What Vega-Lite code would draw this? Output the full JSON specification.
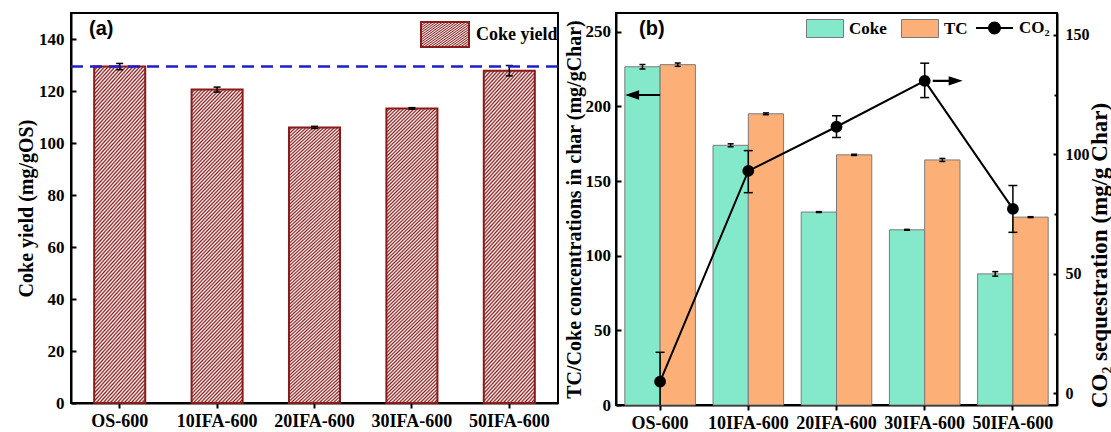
{
"$schema": "https://vega.github.io/schema/vega-lite/v6.json",
"padding": {"left": 15, "top": 9, "right": 0, "bottom": 0},
"spacing": 2,
"background": "white",
"config": {
  "view": {"stroke": "black", "strokeWidth": 2},
  "axis": {"labelFont": "Liberation Serif", "labelFontWeight": "bold", "labelColor": "black", "titleFont": "Liberation Serif", "titleFontWeight": "bold", "titleColor": "black", "domainColor": "black", "domainWidth": 2, "tickColor": "black", "tickWidth": 2, "grid": false},
  "legend": {"labelFont": "Liberation Serif", "labelFontWeight": "bold", "labelColor": "black", "padding": 0},
  "title": {"font": "Liberation Sans", "fontWeight": "bold", "fontSize": 20, "color": "black", "anchor": "start", "frame": "group", "offset": -26}
},
"hconcat": [
{
  "width": 487, "height": 390,
  "title": {"text": "(a)", "dx": 18},
  "data": {"values": [
    {"sample": "OS-600", "coke": 129.4, "lo": 128.2, "hi": 130.6},
    {"sample": "10IFA-600", "coke": 120.6, "lo": 119.6, "hi": 121.5},
    {"sample": "20IFA-600", "coke": 106.0, "lo": 105.6, "hi": 106.4},
    {"sample": "30IFA-600", "coke": 113.3, "lo": 113.0, "hi": 113.6},
    {"sample": "50IFA-600", "coke": 127.8, "lo": 125.8, "hi": 129.8}
  ]},
  "layer": [
    {"mark": {"type": "bar", "strokeWidth": 2, "opacity": 1,
      "fill": {"gradient": "linear", "x1": 0, "y1": 0, "x2": 0.193, "y2": 1.137, "stops": [
{"offset":0,"color":"#8b1a1a"},{"offset":0.005,"color":"#fff"},{"offset":0.01,"color":"#8b1a1a"},{"offset":0.015,"color":"#fff"},{"offset":0.02,"color":"#8b1a1a"},{"offset":0.025,"color":"#fff"},{"offset":0.03,"color":"#8b1a1a"},{"offset":0.035,"color":"#fff"},{"offset":0.04,"color":"#8b1a1a"},{"offset":0.045,"color":"#fff"},
{"offset":0.05,"color":"#8b1a1a"},{"offset":0.055,"color":"#fff"},{"offset":0.06,"color":"#8b1a1a"},{"offset":0.065,"color":"#fff"},{"offset":0.07,"color":"#8b1a1a"},{"offset":0.075,"color":"#fff"},{"offset":0.08,"color":"#8b1a1a"},{"offset":0.085,"color":"#fff"},{"offset":0.09,"color":"#8b1a1a"},{"offset":0.095,"color":"#fff"},
{"offset":0.1,"color":"#8b1a1a"},{"offset":0.105,"color":"#fff"},{"offset":0.11,"color":"#8b1a1a"},{"offset":0.115,"color":"#fff"},{"offset":0.12,"color":"#8b1a1a"},{"offset":0.125,"color":"#fff"},{"offset":0.13,"color":"#8b1a1a"},{"offset":0.135,"color":"#fff"},{"offset":0.14,"color":"#8b1a1a"},{"offset":0.145,"color":"#fff"},
{"offset":0.15,"color":"#8b1a1a"},{"offset":0.155,"color":"#fff"},{"offset":0.16,"color":"#8b1a1a"},{"offset":0.165,"color":"#fff"},{"offset":0.17,"color":"#8b1a1a"},{"offset":0.175,"color":"#fff"},{"offset":0.18,"color":"#8b1a1a"},{"offset":0.185,"color":"#fff"},{"offset":0.19,"color":"#8b1a1a"},{"offset":0.195,"color":"#fff"},
{"offset":0.2,"color":"#8b1a1a"},{"offset":0.205,"color":"#fff"},{"offset":0.21,"color":"#8b1a1a"},{"offset":0.215,"color":"#fff"},{"offset":0.22,"color":"#8b1a1a"},{"offset":0.225,"color":"#fff"},{"offset":0.23,"color":"#8b1a1a"},{"offset":0.235,"color":"#fff"},{"offset":0.24,"color":"#8b1a1a"},{"offset":0.245,"color":"#fff"},
{"offset":0.25,"color":"#8b1a1a"},{"offset":0.255,"color":"#fff"},{"offset":0.26,"color":"#8b1a1a"},{"offset":0.265,"color":"#fff"},{"offset":0.27,"color":"#8b1a1a"},{"offset":0.275,"color":"#fff"},{"offset":0.28,"color":"#8b1a1a"},{"offset":0.285,"color":"#fff"},{"offset":0.29,"color":"#8b1a1a"},{"offset":0.295,"color":"#fff"},
{"offset":0.3,"color":"#8b1a1a"},{"offset":0.305,"color":"#fff"},{"offset":0.31,"color":"#8b1a1a"},{"offset":0.315,"color":"#fff"},{"offset":0.32,"color":"#8b1a1a"},{"offset":0.325,"color":"#fff"},{"offset":0.33,"color":"#8b1a1a"},{"offset":0.335,"color":"#fff"},{"offset":0.34,"color":"#8b1a1a"},{"offset":0.345,"color":"#fff"},
{"offset":0.35,"color":"#8b1a1a"},{"offset":0.355,"color":"#fff"},{"offset":0.36,"color":"#8b1a1a"},{"offset":0.365,"color":"#fff"},{"offset":0.37,"color":"#8b1a1a"},{"offset":0.375,"color":"#fff"},{"offset":0.38,"color":"#8b1a1a"},{"offset":0.385,"color":"#fff"},{"offset":0.39,"color":"#8b1a1a"},{"offset":0.395,"color":"#fff"},
{"offset":0.4,"color":"#8b1a1a"},{"offset":0.405,"color":"#fff"},{"offset":0.41,"color":"#8b1a1a"},{"offset":0.415,"color":"#fff"},{"offset":0.42,"color":"#8b1a1a"},{"offset":0.425,"color":"#fff"},{"offset":0.43,"color":"#8b1a1a"},{"offset":0.435,"color":"#fff"},{"offset":0.44,"color":"#8b1a1a"},{"offset":0.445,"color":"#fff"},
{"offset":0.45,"color":"#8b1a1a"},{"offset":0.455,"color":"#fff"},{"offset":0.46,"color":"#8b1a1a"},{"offset":0.465,"color":"#fff"},{"offset":0.47,"color":"#8b1a1a"},{"offset":0.475,"color":"#fff"},{"offset":0.48,"color":"#8b1a1a"},{"offset":0.485,"color":"#fff"},{"offset":0.49,"color":"#8b1a1a"},{"offset":0.495,"color":"#fff"},
{"offset":0.5,"color":"#8b1a1a"},{"offset":0.505,"color":"#fff"},{"offset":0.51,"color":"#8b1a1a"},{"offset":0.515,"color":"#fff"},{"offset":0.52,"color":"#8b1a1a"},{"offset":0.525,"color":"#fff"},{"offset":0.53,"color":"#8b1a1a"},{"offset":0.535,"color":"#fff"},{"offset":0.54,"color":"#8b1a1a"},{"offset":0.545,"color":"#fff"},
{"offset":0.55,"color":"#8b1a1a"},{"offset":0.555,"color":"#fff"},{"offset":0.56,"color":"#8b1a1a"},{"offset":0.565,"color":"#fff"},{"offset":0.57,"color":"#8b1a1a"},{"offset":0.575,"color":"#fff"},{"offset":0.58,"color":"#8b1a1a"},{"offset":0.585,"color":"#fff"},{"offset":0.59,"color":"#8b1a1a"},{"offset":0.595,"color":"#fff"},
{"offset":0.6,"color":"#8b1a1a"},{"offset":0.605,"color":"#fff"},{"offset":0.61,"color":"#8b1a1a"},{"offset":0.615,"color":"#fff"},{"offset":0.62,"color":"#8b1a1a"},{"offset":0.625,"color":"#fff"},{"offset":0.63,"color":"#8b1a1a"},{"offset":0.635,"color":"#fff"},{"offset":0.64,"color":"#8b1a1a"},{"offset":0.645,"color":"#fff"},
{"offset":0.65,"color":"#8b1a1a"},{"offset":0.655,"color":"#fff"},{"offset":0.66,"color":"#8b1a1a"},{"offset":0.665,"color":"#fff"},{"offset":0.67,"color":"#8b1a1a"},{"offset":0.675,"color":"#fff"},{"offset":0.68,"color":"#8b1a1a"},{"offset":0.685,"color":"#fff"},{"offset":0.69,"color":"#8b1a1a"},{"offset":0.695,"color":"#fff"},
{"offset":0.7,"color":"#8b1a1a"},{"offset":0.705,"color":"#fff"},{"offset":0.71,"color":"#8b1a1a"},{"offset":0.715,"color":"#fff"},{"offset":0.72,"color":"#8b1a1a"},{"offset":0.725,"color":"#fff"},{"offset":0.73,"color":"#8b1a1a"},{"offset":0.735,"color":"#fff"},{"offset":0.74,"color":"#8b1a1a"},{"offset":0.745,"color":"#fff"},
{"offset":0.75,"color":"#8b1a1a"},{"offset":0.755,"color":"#fff"},{"offset":0.76,"color":"#8b1a1a"},{"offset":0.765,"color":"#fff"},{"offset":0.77,"color":"#8b1a1a"},{"offset":0.775,"color":"#fff"},{"offset":0.78,"color":"#8b1a1a"},{"offset":0.785,"color":"#fff"},{"offset":0.79,"color":"#8b1a1a"},{"offset":0.795,"color":"#fff"},
{"offset":0.8,"color":"#8b1a1a"},{"offset":0.805,"color":"#fff"},{"offset":0.81,"color":"#8b1a1a"},{"offset":0.815,"color":"#fff"},{"offset":0.82,"color":"#8b1a1a"},{"offset":0.825,"color":"#fff"},{"offset":0.83,"color":"#8b1a1a"},{"offset":0.835,"color":"#fff"},{"offset":0.84,"color":"#8b1a1a"},{"offset":0.845,"color":"#fff"},
{"offset":0.85,"color":"#8b1a1a"},{"offset":0.855,"color":"#fff"},{"offset":0.86,"color":"#8b1a1a"},{"offset":0.865,"color":"#fff"},{"offset":0.87,"color":"#8b1a1a"},{"offset":0.875,"color":"#fff"},{"offset":0.88,"color":"#8b1a1a"},{"offset":0.885,"color":"#fff"},{"offset":0.89,"color":"#8b1a1a"},{"offset":0.895,"color":"#fff"},
{"offset":0.9,"color":"#8b1a1a"},{"offset":0.905,"color":"#fff"},{"offset":0.91,"color":"#8b1a1a"},{"offset":0.915,"color":"#fff"},{"offset":0.92,"color":"#8b1a1a"},{"offset":0.925,"color":"#fff"},{"offset":0.93,"color":"#8b1a1a"},{"offset":0.935,"color":"#fff"},{"offset":0.94,"color":"#8b1a1a"},{"offset":0.945,"color":"#fff"},
{"offset":0.95,"color":"#8b1a1a"},{"offset":0.955,"color":"#fff"},{"offset":0.96,"color":"#8b1a1a"},{"offset":0.965,"color":"#fff"},{"offset":0.97,"color":"#8b1a1a"},{"offset":0.975,"color":"#fff"},{"offset":0.98,"color":"#8b1a1a"},{"offset":0.985,"color":"#fff"},{"offset":0.99,"color":"#8b1a1a"},{"offset":0.995,"color":"#fff"},
{"offset":1,"color":"#8b1a1a"}
      ]}},
      "encoding": {
        "x": {"field": "sample", "type": "nominal", "scale": {"domain": ["OS-600", "10IFA-600", "20IFA-600", "30IFA-600", "50IFA-600"], "paddingInner": 0.476, "paddingOuter": 0.238}, "axis": {"title": null, "labelAngle": 0, "labelFontSize": 18, "tickSize": 5, "labelPadding": 4}},
        "y": {"field": "coke", "type": "quantitative", "title": "Coke yield (mg/gOS)", "scale": {"domain": [0, 150], "nice": false}, "axis": {"values": [0, 10, 20, 30, 40, 50, 60, 70, 80, 90, 100, 110, 120, 130, 140], "labelExpr": "datum.value % 20 === 0 ? datum.label : ''", "tickSize": {"condition": {"test": "datum.value % 20 === 0", "value": -5}, "value": -3}, "labelFontSize": 17, "titleFontSize": 20, "labelPadding": 12, "titlePadding": 2}},
        "stroke": {"datum": "Coke yield", "type": "nominal", "scale": {"range": ["#8b1a1a"]}, "legend": {"orient": "none", "legendX": 349, "legendY": -3.5, "title": null, "symbolType": "M-1,-0.52H1V0.52H-1Z", "symbolSize": 2304, "symbolStrokeWidth": 2, "labelFontSize": 18, "labelOffset": 6,
          "encode": {"symbols": {
            "stroke": {"value": "#8b1a1a"}, "strokeWidth": {"value": 2}, "opacity": {"value": 1},
            "fill": {"value": {"gradient": "linear", "x1": 0, "y1": 0, "x2": 1.203, "y2": 0.576, "stops": [
{"offset":0,"color":"#8b1a1a"},{"offset":0.025,"color":"#fff"},{"offset":0.05,"color":"#8b1a1a"},{"offset":0.075,"color":"#fff"},{"offset":0.1,"color":"#8b1a1a"},{"offset":0.125,"color":"#fff"},{"offset":0.15,"color":"#8b1a1a"},{"offset":0.175,"color":"#fff"},{"offset":0.2,"color":"#8b1a1a"},{"offset":0.225,"color":"#fff"},
{"offset":0.25,"color":"#8b1a1a"},{"offset":0.275,"color":"#fff"},{"offset":0.3,"color":"#8b1a1a"},{"offset":0.325,"color":"#fff"},{"offset":0.35,"color":"#8b1a1a"},{"offset":0.375,"color":"#fff"},{"offset":0.4,"color":"#8b1a1a"},{"offset":0.425,"color":"#fff"},{"offset":0.45,"color":"#8b1a1a"},{"offset":0.475,"color":"#fff"},
{"offset":0.5,"color":"#8b1a1a"},{"offset":0.525,"color":"#fff"},{"offset":0.55,"color":"#8b1a1a"},{"offset":0.575,"color":"#fff"},{"offset":0.6,"color":"#8b1a1a"},{"offset":0.625,"color":"#fff"},{"offset":0.65,"color":"#8b1a1a"},{"offset":0.675,"color":"#fff"},{"offset":0.7,"color":"#8b1a1a"},{"offset":0.725,"color":"#fff"},
{"offset":0.75,"color":"#8b1a1a"},{"offset":0.775,"color":"#fff"},{"offset":0.8,"color":"#8b1a1a"},{"offset":0.825,"color":"#fff"},{"offset":0.85,"color":"#8b1a1a"},{"offset":0.875,"color":"#fff"},{"offset":0.9,"color":"#8b1a1a"},{"offset":0.925,"color":"#fff"},{"offset":0.95,"color":"#8b1a1a"},{"offset":0.975,"color":"#fff"},
{"offset":1,"color":"#8b1a1a"}
            ]}}
          }}
        }}
      }
    },
    {"mark": {"type": "rule", "color": "black", "strokeWidth": 1.5},
      "encoding": {
        "x": {"field": "sample", "type": "nominal"},
        "y": {"field": "lo", "type": "quantitative", "title": "Coke yield (mg/gOS)"},
        "y2": {"field": "hi"}
      }
    },
    {"mark": {"type": "tick", "color": "black", "size": 7, "thickness": 1.5, "opacity": 1},
      "encoding": {
        "x": {"field": "sample", "type": "nominal"},
        "y": {"field": "lo", "type": "quantitative", "title": "Coke yield (mg/gOS)"}
      }
    },
    {"mark": {"type": "tick", "color": "black", "size": 7, "thickness": 1.5, "opacity": 1},
      "encoding": {
        "x": {"field": "sample", "type": "nominal"},
        "y": {"field": "hi", "type": "quantitative", "title": "Coke yield (mg/gOS)"}
      }
    },
    {"data": {"values": [{"ref": 129.4}]},
      "mark": {"type": "rule", "color": "#1e1ec8", "strokeWidth": 2.5, "strokeDash": [12, 7]},
      "encoding": {"y": {"field": "ref", "type": "quantitative", "title": "Coke yield (mg/gOS)"}}
    }
  ]
},
{
  "width": 441, "height": 392,
  "title": {"text": "(b)", "dx": 23},
  "layer": [
    {
      "data": {"values": [
        {"sample": "OS-600", "series": "Coke", "value": 226.5, "lo": 225.0, "hi": 228.0},
        {"sample": "OS-600", "series": "TC", "value": 227.9, "lo": 226.8, "hi": 229.0},
        {"sample": "10IFA-600", "series": "Coke", "value": 173.9, "lo": 172.9, "hi": 174.9},
        {"sample": "10IFA-600", "series": "TC", "value": 195.0, "lo": 194.4, "hi": 195.6},
        {"sample": "20IFA-600", "series": "Coke", "value": 129.2, "lo": 128.9, "hi": 129.5},
        {"sample": "20IFA-600", "series": "TC", "value": 167.5, "lo": 167.1, "hi": 167.9},
        {"sample": "30IFA-600", "series": "Coke", "value": 117.3, "lo": 117.0, "hi": 117.6},
        {"sample": "30IFA-600", "series": "TC", "value": 164.1, "lo": 163.1, "hi": 165.1},
        {"sample": "50IFA-600", "series": "Coke", "value": 87.8, "lo": 86.3, "hi": 89.3},
        {"sample": "50IFA-600", "series": "TC", "value": 125.8, "lo": 125.5, "hi": 126.1}
      ]},
      "layer": [
        {"mark": {"type": "bar", "stroke": "#7a7a7a", "strokeWidth": 1, "opacity": 1},
          "encoding": {
            "x": {"field": "sample", "type": "nominal", "scale": {"domain": ["OS-600", "10IFA-600", "20IFA-600", "30IFA-600", "50IFA-600"], "paddingInner": 0.2, "paddingOuter": 0.1}, "axis": {"title": null, "labelAngle": 0, "labelFontSize": 18, "tickSize": 5, "labelPadding": 4}},
            "xOffset": {"field": "series", "type": "nominal", "scale": {"domain": ["Coke", "TC"], "paddingInner": 0, "paddingOuter": 0}},
            "y": {"field": "value", "type": "quantitative", "title": "TC/Coke concentrations in char (mg/gChar)", "scale": {"domain": [0, 262.5], "nice": false}, "axis": {"values": [0, 12.5, 25, 37.5, 50, 62.5, 75, 87.5, 100, 112.5, 125, 137.5, 150, 162.5, 175, 187.5, 200, 212.5, 225, 237.5, 250], "labelExpr": "datum.value % 25 === 0 ? datum.label : ''", "tickSize": {"condition": {"test": "datum.value % 25 === 0", "value": -5}, "value": -3}, "labelFontSize": 17, "titleFontSize": 20, "labelPadding": 10.5, "titlePadding": 1}},
            "color": {"field": "series", "type": "nominal", "scale": {"domain": ["Coke", "TC"], "range": ["#84e9cb", "#fdaf78"]},
              "legend": {"orient": "none", "legendX": 735, "legendY": -3.5, "title": null, "direction": "horizontal", "symbolSize": 1369, "symbolType": "M-1,-0.486H1V0.486H-1Z", "symbolStrokeColor": "#7a7a7a", "symbolStrokeWidth": 1, "symbolOpacity": 1, "labelFontSize": 17, "labelOffset": 5, "columnPadding": 12}
            }
          }
        },
        {"mark": {"type": "rule", "color": "black", "strokeWidth": 1.5},
          "encoding": {
            "x": {"field": "sample", "type": "nominal"},
            "xOffset": {"field": "series", "type": "nominal"},
            "y": {"field": "lo", "type": "quantitative", "title": "TC/Coke concentrations in char (mg/gChar)"},
            "y2": {"field": "hi"}
          }
        },
        {"mark": {"type": "tick", "color": "black", "size": 6, "thickness": 1.5, "opacity": 1},
          "encoding": {
            "x": {"field": "sample", "type": "nominal"},
            "xOffset": {"field": "series", "type": "nominal"},
            "y": {"field": "lo", "type": "quantitative", "title": "TC/Coke concentrations in char (mg/gChar)"}
          }
        },
        {"mark": {"type": "tick", "color": "black", "size": 6, "thickness": 1.5, "opacity": 1},
          "encoding": {
            "x": {"field": "sample", "type": "nominal"},
            "xOffset": {"field": "series", "type": "nominal"},
            "y": {"field": "hi", "type": "quantitative", "title": "TC/Coke concentrations in char (mg/gChar)"}
          }
        },
        {"data": {"values": [{"sample": "OS-600", "v": 207.6}]},
          "mark": {"type": "point", "shape": "M0,-0.06H-1.2V-0.27L-2,0L-1.2,0.27V0.06H0Z", "size": 1225, "filled": true, "color": "black", "opacity": 1, "strokeWidth": 0},
          "encoding": {
            "x": {"field": "sample", "type": "nominal"},
            "y": {"field": "v", "type": "quantitative", "title": "TC/Coke concentrations in char (mg/gChar)"}
          }
        }
      ]
    },
    {
      "data": {"values": [
        {"sample": "OS-600", "co2": 4.9, "lo": -7.4, "hi": 17.2},
        {"sample": "10IFA-600", "co2": 93.1, "lo": 84.0, "hi": 101.6},
        {"sample": "20IFA-600", "co2": 111.6, "lo": 107.1, "hi": 116.2},
        {"sample": "30IFA-600", "co2": 130.8, "lo": 123.8, "hi": 138.2},
        {"sample": "50IFA-600", "co2": 77.2, "lo": 67.4, "hi": 87.0}
      ]},
      "layer": [
        {"mark": {"type": "line", "strokeWidth": 2, "color": "black"},
          "encoding": {
            "x": {"field": "sample", "type": "nominal"},
            "y": {"field": "co2", "type": "quantitative", "title": "CO₂ sequestration (mg/g Char)", "scale": {"domain": [-4.86, 159.2], "nice": false, "zero": false}, "axis": {"orient": "right", "values": [0, 25, 50, 75, 100, 125, 150], "labelExpr": "datum.value % 50 === 0 ? datum.label : ''", "tickSize": {"condition": {"test": "datum.value % 50 === 0", "value": -4}, "value": -3}, "labelFontSize": 16, "titleFontSize": 23, "labelPadding": 12, "titlePadding": -1, "titleAngle": -90, "titleBaseline": "top", "titleY": 242}}
          }
        },
        {"mark": {"type": "rule", "color": "black", "strokeWidth": 1.5, "clip": true},
          "encoding": {
            "x": {"field": "sample", "type": "nominal"},
            "y": {"field": "lo", "type": "quantitative", "title": "CO₂ sequestration (mg/g Char)"},
            "y2": {"field": "hi"}
          }
        },
        {"mark": {"type": "tick", "color": "black", "size": 9, "thickness": 1.5, "opacity": 1, "clip": true},
          "encoding": {
            "x": {"field": "sample", "type": "nominal"},
            "y": {"field": "lo", "type": "quantitative", "title": "CO₂ sequestration (mg/g Char)"}
          }
        },
        {"mark": {"type": "tick", "color": "black", "size": 9, "thickness": 1.5, "opacity": 1},
          "encoding": {
            "x": {"field": "sample", "type": "nominal"},
            "y": {"field": "hi", "type": "quantitative", "title": "CO₂ sequestration (mg/g Char)"}
          }
        },
        {"mark": {"type": "point", "filled": true, "size": 140, "opacity": 1, "strokeWidth": 0, "color": "black"},
          "encoding": {
            "x": {"field": "sample", "type": "nominal"},
            "y": {"field": "co2", "type": "quantitative", "title": "CO₂ sequestration (mg/g Char)"}
          }
        },
        {"mark": {"type": "point", "filled": true, "size": 140, "opacity": 0, "strokeWidth": 0, "color": "black"},
          "encoding": {
            "x": {"field": "sample", "type": "nominal"},
            "y": {"field": "co2", "type": "quantitative", "title": "CO₂ sequestration (mg/g Char)"},
            "shape": {"datum": "CO₂", "type": "nominal", "scale": {"range": ["M-1,-0.054H1V0.054H-1Z M0.35,0A0.35,0.35 0 1,1 -0.35,0A0.35,0.35 0 1,1 0.35,0Z"]},
              "legend": {"orient": "none", "legendX": 905, "legendY": -3.5, "title": null, "symbolSize": 1369, "symbolOpacity": 1, "symbolFillColor": "black", "symbolStrokeColor": "black", "symbolStrokeWidth": 0, "labelFontSize": 17, "labelOffset": 6}
            }
          }
        },
        {"data": {"values": [{"sample": "30IFA-600", "v": 130.8}]},
          "mark": {"type": "point", "shape": "M0.46,-0.06H1.37V-0.27L2.17,0L1.37,0.27V0.06H0.46Z", "size": 1225, "filled": true, "color": "black", "opacity": 1, "strokeWidth": 0},
          "encoding": {
            "x": {"field": "sample", "type": "nominal"},
            "y": {"field": "v", "type": "quantitative", "title": "CO₂ sequestration (mg/g Char)"}
          }
        }
      ]
    }
  ],
  "resolve": {"scale": {"y": "independent"}}
}
]
}
